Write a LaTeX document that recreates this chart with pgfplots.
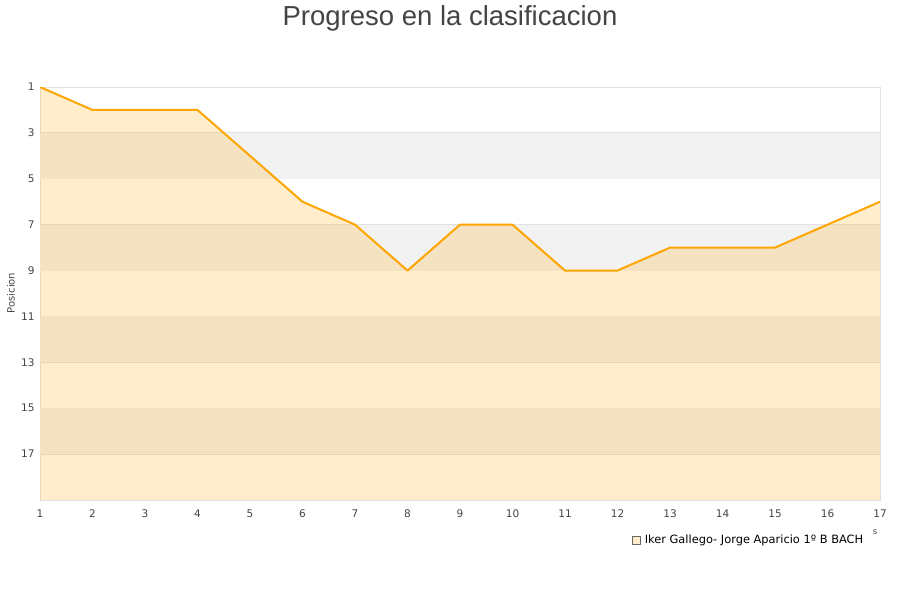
\documentclass[border=0pt]{standalone}
\usepackage{pgfplots}
\pgfplotsset{compat=1.18}
\usepackage{fontspec}
\setmainfont{DejaVu Sans}
\newfontfamily\titlefont{Liberation Sans}
\definecolor{lineor}{HTML}{FFA500}
\definecolor{band}{HTML}{F2F2F2}
\definecolor{gridc}{HTML}{E2E2E2}
\definecolor{tickc}{HTML}{444444}
\begin{document}
\begin{tikzpicture}
\path[use as bounding box] (-40bp,-100bp) rectangle (860bp,500bp);
\begin{axis}[
  at={(0,0)}, anchor=south west,
  scale only axis, width=840bp, height=413bp,
  xmin=1, xmax=17, ymin=1, ymax=19,
  y dir=reverse,
  xtick={1,...,17}, ytick={1,3,...,17},
  tick style={draw=none},
  ymajorgrids, grid style={gridc, line width=0.8pt},
  axis line style={draw=gridc, line width=0.8pt},
  tick label style={font=\fontsize{10.5bp}{12bp}\selectfont, text=tickc},
  /pgf/number format/assume math mode=true,
  xticklabel style={yshift=-6bp},
  yticklabel style={xshift=-2bp},
  legend style={draw=none, fill=none, at={(axis description cs:0.7004,-0.097)}, anchor=west,
     font=\fontsize{11.4bp}{13bp}\selectfont, legend cell align=left},
  legend image code/.code={\draw[draw=gray!80!black, fill=lineor!20, line width=0.5pt] (0bp,-4bp) rectangle (8bp,4bp); \path[draw=none, fill=none] (0bp,0bp) -- (11bp,0bp);},
]
\addplot[draw=none, fill=band, forget plot] coordinates {(1,3) (17,3) (17,5) (1,5)} -- cycle;
\addplot[draw=none, fill=band, forget plot] coordinates {(1,7) (17,7) (17,9) (1,9)} -- cycle;
\addplot[draw=none, fill=band, forget plot] coordinates {(1,11) (17,11) (17,13) (1,13)} -- cycle;
\addplot[draw=none, fill=band, forget plot] coordinates {(1,15) (17,15) (17,17) (1,17)} -- cycle;
\addplot[draw=none, fill=lineor, fill opacity=0.2, forget plot] coordinates {
 (1,1) (2,2) (3,2) (4,2) (5,4) (6,6) (7,7) (8,9) (9,7) (10,7) (11,9) (12,9) (13,8) (14,8) (15,8) (16,7) (17,6) (17,19) (1,19)} -- cycle;
\addplot[lineor, line width=2pt, line join=round] coordinates {
 (1,1) (2,2) (3,2) (4,2) (5,4) (6,6) (7,7) (8,9) (9,7) (10,7) (11,9) (12,9) (13,8) (14,8) (15,8) (16,7) (17,6)};
\addlegendentry{Iker Gallego- Jorge Aparicio 1º B BACH}
\end{axis}
\node[font=\titlefont\fontsize{27.5bp}{30bp}\selectfont, text=tickc] at (410bp,482bp) {Progreso en la clasificacion};
\node[rotate=90, font=\fontsize{10bp}{12bp}\selectfont, text=tickc] at (-29bp,207bp) {Posicion};
\node[font=\fontsize{8.5bp}{9bp}\selectfont, text=tickc] at (835bp,-32bp) {s};
\end{tikzpicture}
\end{document}
